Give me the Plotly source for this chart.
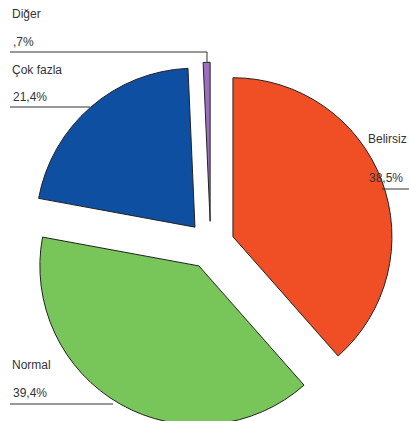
import plotly.graph_objects as go

# category shares (%)
categories = ["Belirsiz", "Normal", "Çok fazla", "Diğer"]
shares = [38.5, 39.4, 21.4, 0.7]
share_labels = ["38,5%", "39,4%", "21,4%", ",7%"]
colors = ["#F04E25", "#78C55A", "#0F4FA2", "#9B6FBE"]

# figure is a bit taller than the window so the bottom of the pie gets cut, like the original
W, H = 409, 428
PULL = 0.15
box = 2 * 159 * (1 + PULL)  # pie box size in px for r ~ 159

fig = go.Figure(
    go.Pie(
        labels=categories,
        values=shares,
        sort=False,
        direction="clockwise",
        rotation=0,
        pull=[PULL] * len(shares),
        marker=dict(colors=colors, line=dict(color="#222222", width=1)),
        textinfo="none",
        hoverinfo="label+percent",
        showlegend=False,
        domain=dict(x=[0.515 - box / W / 2, 0.515 + box / W / 2], y=[0, box / H]),
    )
)

# SPSS style labels: name over value, underline leading to the slice
label_pos = {
    # name: (x of text, y of name, y of value, underline y, line x0, line x1)
    "Diğer": (10, 14, 42, 52, 10, 207),
    "Çok fazla": (10, 70, 97, 107, 10, 90),
    "Belirsiz": (366, 139, 178, 189, 382, 409),
    "Normal": (10, 365, 393, 404, 10, 113),
}

font = dict(family="Liberation Sans, Arial, sans-serif", size=12, color="#333333")
for name, lab in zip(categories, share_labels):
    tx, y1, y2, ly, lx0, lx1 = label_pos[name]
    fig.add_annotation(x=tx / W, y=1 - y1 / H, xref="paper", yref="paper",
                       text=name, showarrow=False, xanchor="left", yanchor="middle", font=font)
    fig.add_annotation(x=(tx + 1) / W, y=1 - y2 / H, xref="paper", yref="paper",
                       text=lab, showarrow=False, xanchor="left", yanchor="middle", font=font)
    fig.add_shape(type="line", xref="paper", yref="paper",
                  x0=lx0 / W, x1=lx1 / W, y0=1 - ly / H, y1=1 - ly / H,
                  line=dict(color="#333333", width=1))

# Diğer leader drops down to the thin slice
fig.add_shape(type="line", xref="paper", yref="paper",
              x0=207 / W, x1=207 / W, y0=1 - 52 / H, y1=1 - 63 / H,
              line=dict(color="#333333", width=1))

fig.update_layout(
    width=W,
    height=H,
    margin=dict(l=0, r=0, t=0, b=0),
    paper_bgcolor="white",
    plot_bgcolor="white",
)

fig.write_html(
    "out.html",
    config={"displayModeBar": False},
    post_script="document.body.style.margin='0';document.body.style.overflow='hidden';",
)
